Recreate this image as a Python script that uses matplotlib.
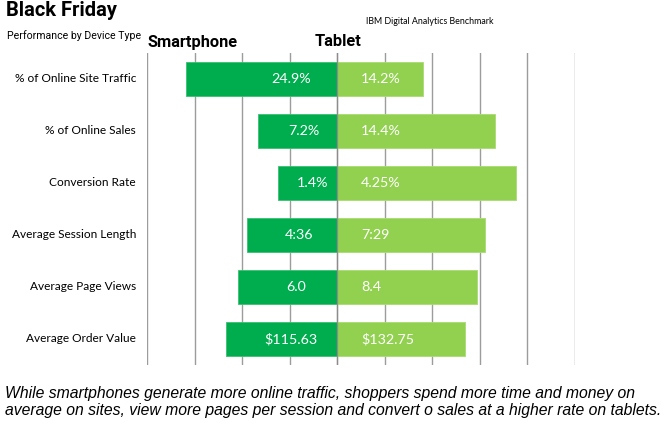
import numpy as np
import matplotlib
matplotlib.use('Agg')
import matplotlib.pyplot as plt
from matplotlib import rcParams

rcParams['font.family'] = 'sans-serif'
rcParams['font.sans-serif'] = ['Lato', 'DejaVu Sans']

# data (bar lengths in grid units, labels as printed)
metrics = ['% of Online Site Traffic', '% of Online Sales', 'Conversion Rate',
           'Average Session Length', 'Average Page Views', 'Average Order Value']
smartphone_len = [3.18, 1.67, 1.24, 1.90, 2.08, 2.33]
tablet_len = [1.81, 3.32, 3.76, 3.10, 2.93, 2.68]
smartphone_lbl = ['24.9%', '7.2%', '1.4%', '4:36', '6.0', '$115.63']
tablet_lbl = ['14.2%', '14.4%', '4.25%', '7:29', '8.4', '$132.75']

dark_green = '#00AD4E'
light_green = '#92D050'

fig = plt.figure(figsize=(6.64, 4.24), dpi=100)
ax = fig.add_axes([147/664, 1 - 365/424, 428/664, 312/424])

y = np.arange(len(metrics))
ax.barh(y, [-v for v in smartphone_len], height=0.67, color=dark_green,
        edgecolor='#3CC070', linewidth=0.6, zorder=2)
ax.barh(y, tablet_len, height=0.67, color=light_green,
        edgecolor='#A8DC70', linewidth=0.6, zorder=2)
ax.axvline(0, color='#8C8C8C', linewidth=0.9, zorder=3)

for i in range(len(metrics)):
    xs = max(-0.97, -smartphone_len[i] * 0.42)
    ax.text(xs, y[i], smartphone_lbl[i], color='white', fontsize=10.3,
            ha='center', va='center', zorder=4)
    ax.text(0.5, y[i], tablet_lbl[i], color='white', fontsize=10.3,
            ha='left', va='center', zorder=4)
    ax.text(-4.23, y[i], metrics[i], fontsize=8.6, ha='right', va='center')

ax.set_xlim(-4, 5)
ax.set_ylim(5.5, -0.5)
ax.set_xticks(np.arange(-4, 6))
ax.set_yticks([])
ax.xaxis.grid(True, color='#9C9C9C', linewidth=1.0, zorder=0)
ax.set_axisbelow(True)
ax.tick_params(axis='x', length=0, labelbottom=False)
for s in ax.spines.values():
    s.set_visible(False)

narrow = ['Roboto', 'DejaVu Sans']
fig.text(6/664, 1 - 1/424, 'Black Friday', family=narrow, fontweight='bold',
         fontsize=14.5, ha='left', va='top')
fig.text(7/664, 1 - 30/424, 'Performance by Device Type', family=narrow,
         fontsize=7.6, ha='left', va='top')
fig.text(193/664, 1 - 42/424, 'Smartphone', family=narrow, fontweight='bold',
         fontsize=11.8, ha='center', va='center')
fig.text(338/664, 1 - 42/424, 'Tablet', family=narrow, fontweight='bold',
         fontsize=11.8, ha='center', va='center')
fig.text(366/664, 1 - 22/424, 'IBM Digital Analytics Benchmark', fontsize=6.4,
         ha='left', va='center')

footer = ('While smartphones generate more online traffic, shoppers spend more time and money on\n'
          'average on sites, view more pages per session and convert o sales at a higher rate on tablets.')
fig.text(5/664, 1 - 402/424, footer, family=['Liberation Sans', 'DejaVu Sans'],
         style='italic', fontsize=11.3, ha='left', va='center', linespacing=1.2)

fig.savefig('out.png', dpi=100)
